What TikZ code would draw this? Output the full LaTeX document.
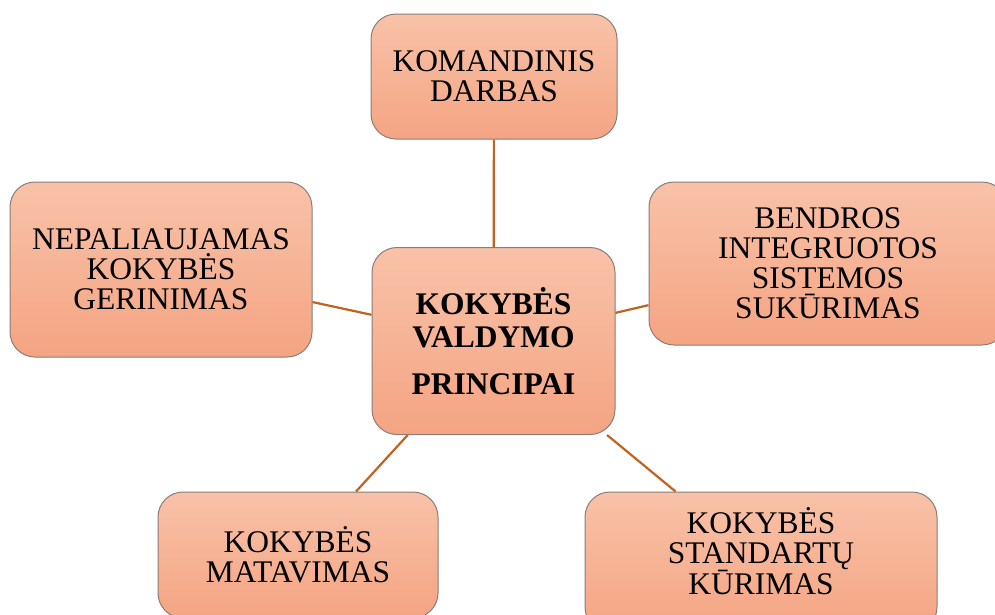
\documentclass[tikz,border=0pt]{standalone}
\usepackage{fontspec}
\setmainfont{Liberation Serif}
\usepackage{tikz}
\usetikzlibrary{positioning}
\definecolor{boxtop}{RGB}{248,194,168}
\definecolor{boxbottom}{RGB}{244,164,131}
\definecolor{boxedge}{RGB}{140,124,118}
\definecolor{linkbrown}{RGB}{192,99,30}

\begin{document}
\begin{tikzpicture}[x=1pt, y=-1pt,
    principle/.style={draw=boxedge, line width=1pt, rounded corners=25pt,
        top color=boxtop, bottom color=boxbottom, align=center,
        inner sep=0pt, font=\fontsize{31.5}{30}\selectfont},
    link/.style={draw=linkbrown, line width=2.2pt}]
\useasboundingbox (0,0) rectangle (995,614);
\clip (0,0) rectangle (995,614);

% central node
\node[principle, minimum width=243pt, minimum height=187pt, font=\fontsize{31.5}{33}\selectfont\bfseries] (core) at (493.5,341)
    {KOKYBĖS\\VALDYMO\\[14pt]PRINCIPAI};

% surrounding principles
\node[principle, minimum width=246pt, minimum height=125pt] (team) at (494,76.5) {KOMANDINIS\\DARBAS};
\node[principle, minimum width=302pt, minimum height=175pt] (improve) at (161,269.5) {NEPALIAUJAMAS\\KOKYBĖS\\GERINIMAS};
\node[principle, minimum width=358pt, minimum height=163pt] (system) at (828,263.5) {BENDROS\\INTEGRUOTOS\\SISTEMOS\\SUKŪRIMAS};
\node[principle, minimum width=280pt, minimum height=126pt] (measure) at (298,555) {KOKYBĖS\\MATAVIMAS};
\node[principle, minimum width=352pt, minimum height=140pt, text depth=22pt] (standards) at (761,562) {KOKYBĖS\\STANDARTŲ\\KŪRIMAS};

\draw[link] (team) -- (core);
\draw[link] (improve) -- (core);
\draw[link] (system) -- (core);
\draw[link] (measure) -- (core);
\draw[link] (standards) -- (core);
\end{tikzpicture}
\end{document}
